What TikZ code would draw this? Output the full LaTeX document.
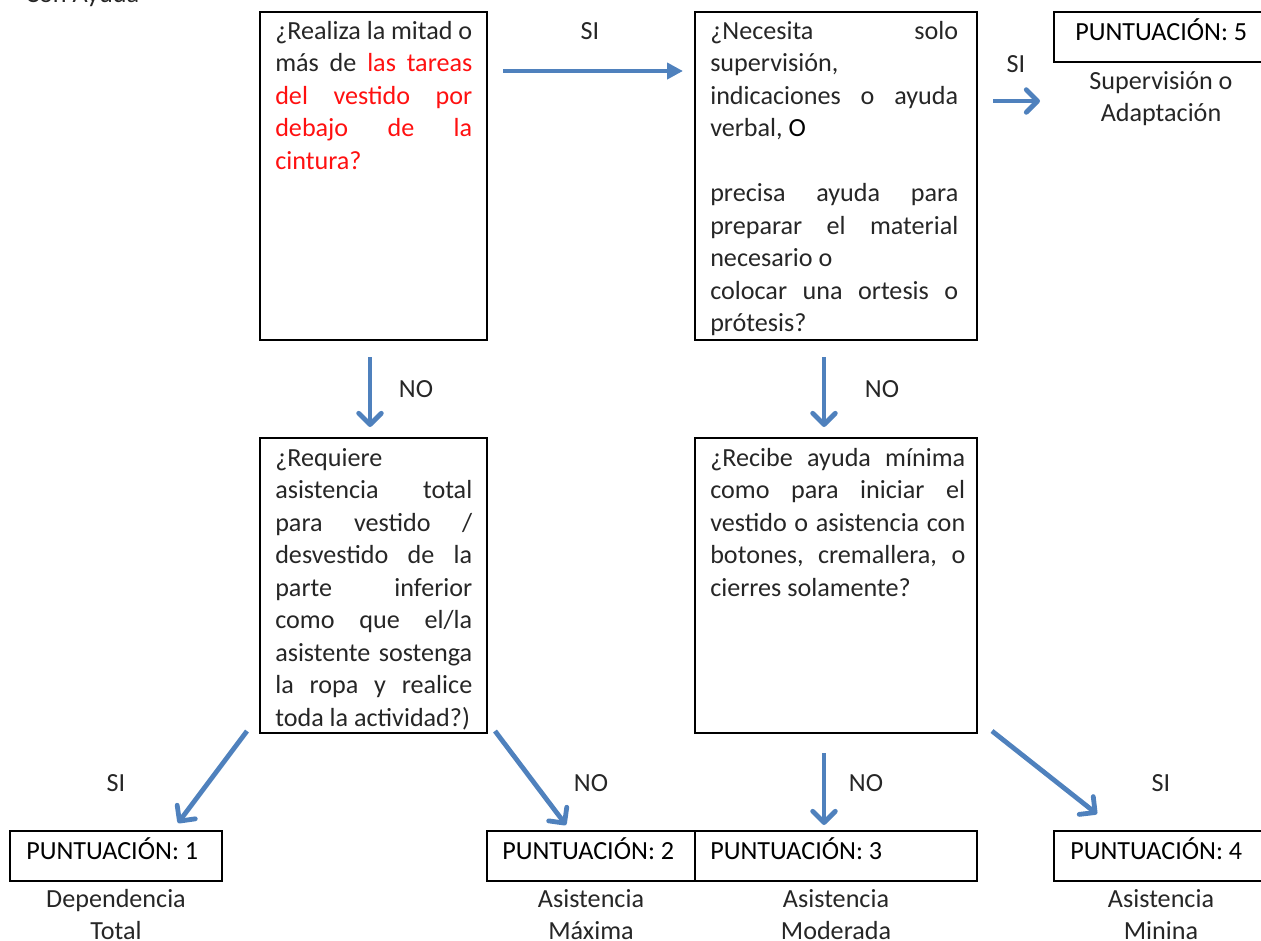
\documentclass[tikz,border=0pt]{standalone}
\usepackage{fontspec}
\setmainfont{Carlito}
\usetikzlibrary{arrows.meta,fit}

\definecolor{flowblue}{HTML}{4F81BD}
\definecolor{bodyink}{HTML}{262626}
\definecolor{hilite}{HTML}{FF1010}

% one justified line of a question box
\newcommand{\jline}[1]{\makebox[\linewidth][s]{#1}\\}

\begin{document}
\begin{tikzpicture}[x=0.75pt,y=-0.75pt,
  frame/.style={draw=black, line width=1.4pt, inner sep=0pt},
  txt/.style={inner sep=0pt, font=\fontsize{19.6}{24.4}\selectfont},
  body/.style={txt, anchor=base west, text=bodyink},
  score/.style={txt, anchor=base west, text=black},
  caption/.style={txt, anchor=base, text=bodyink},
  answer/.style={txt, anchor=center, text=bodyink},
  flow/.style={draw=flowblue, line width=3.6pt,
    -{Straight Barb[length=8.5pt,width=17pt,round]}},
  flowhead/.style={draw=flowblue, line width=3.6pt,
    -{Triangle[length=12pt,width=12pt]}}
]
\useasboundingbox (0,0) rectangle (1261,940);

% heading cut at the top edge
\node[body] (head) at (25,2) {Con Ayuda};

% question boxes
\node[frame, fit={(260,12) (487,340)}] (qA) {};
\node[frame, fit={(695,12) (977,340)}] (qB) {};
\node[frame, fit={(260,438) (487,733)}] (qC) {};
\node[frame, fit={(695,438) (977,733)}] (qD) {};

\node[body] (tA) at (275,39) {\parbox[t]{147.75pt}{%
\jline{¿Realiza la mitad o}
\jline{más de \textcolor{hilite}{las tareas}}
\jline{\textcolor{hilite}{del vestido por}}
\jline{\textcolor{hilite}{debajo de la}}
\textcolor{hilite}{cintura?}}};

\node[body] (tB) at (710,39) {\parbox[t]{186pt}{%
\jline{¿Necesita solo}
supervisión,\\
\jline{indicaciones o ayuda}
verbal, \textcolor{black}{O}\\
\mbox{}\\
\jline{precisa ayuda para}
\jline{preparar el material}
necesario o\\
\jline{colocar una ortesis o}
prótesis?}};

\node[body] (tC) at (275,466) {\parbox[t]{147.75pt}{%
¿Requiere\\
\jline{asistencia total}
\jline{para vestido /}
\jline{desvestido de la}
\jline{parte inferior}
\jline{como que el/la}
\jline{asistente sostenga}
\jline{la ropa y realice}
toda la actividad?)}};

\node[body] (tD) at (710,466) {\parbox[t]{191.25pt}{%
\jline{¿Recibe ayuda mínima}
\jline{como para iniciar el}
\jline{vestido o asistencia con}
\jline{botones, cremallera, o}
cierres solamente?}};

% score boxes
\node[frame, fit={(1054,12) (1272,62)}] (s5) {};
\node[frame, fit={(10,831) (222,881)}] (s1) {};
\node[frame, fit={(487,831) (695,881)}] (s2) {};
\node[frame, fit={(695,831) (977,881)}] (s3) {};
\node[frame, fit={(1054,831) (1272,881)}] (s4) {};

\node[score] (p5) at (1075,40) {PUNTUACIÓN: 5};
\node[score] (p1) at (26,859) {PUNTUACIÓN: 1};
\node[score] (p2) at (502,859) {PUNTUACIÓN: 2};
\node[score] (p3) at (710,859) {PUNTUACIÓN: 3};
\node[score] (p4) at (1070,859) {PUNTUACIÓN: 4};

% score descriptions
\node[caption] (c5) at (1161,89) {\parbox[t]{200pt}{\centering Supervisión o\\Adaptación}};
\node[caption] (c1) at (116,907) {\parbox[t]{200pt}{\centering Dependencia\\Total}};
\node[caption] (c2) at (591,907) {\parbox[t]{200pt}{\centering Asistencia\\Máxima}};
\node[caption] (c3) at (836,907) {\parbox[t]{200pt}{\centering Asistencia\\Moderada}};
\node[caption] (c4) at (1161,907) {\parbox[t]{200pt}{\centering Asistencia\\Minina}};

% answer labels
\node[answer] (yAB) at (590,31) {SI};
\node[answer] (yB5) at (1016,64) {SI};
\node[answer] (nAC) at (416,389) {NO};
\node[answer] (nBD) at (882,389) {NO};
\node[answer] (yC1) at (116,783) {SI};
\node[answer] (nC2) at (591,783) {NO};
\node[answer] (nD3) at (866,783) {NO};
\node[answer] (yD4) at (1161,783) {SI};

% connector ends
\coordinate (ab1) at (503,71);  \coordinate (ab2) at (683,71);
\coordinate (b51) at (993,101); \coordinate (b52) at (1040,101);
\coordinate (ac1) at (370,357); \coordinate (ac2) at (370,427);
\coordinate (bd1) at (824,357); \coordinate (bd2) at (824,427);
\coordinate (c11) at (247,731); \coordinate (c12) at (178,823);
\coordinate (c21) at (495,731); \coordinate (c22) at (566,825);
\coordinate (d31) at (824,753); \coordinate (d32) at (824,825);
\coordinate (d41) at (992,731); \coordinate (d42) at (1097,814);

\draw[flowhead] (ab1) -- (ab2);
\draw[flow] (b51) -- (b52);
\draw[flow] (ac1) -- (ac2);
\draw[flow] (bd1) -- (bd2);
\draw[flow] (c11) -- (c12);
\draw[flow] (c21) -- (c22);
\draw[flow] (d31) -- (d32);
\draw[flow] (d41) -- (d42);
\end{tikzpicture}
\end{document}
